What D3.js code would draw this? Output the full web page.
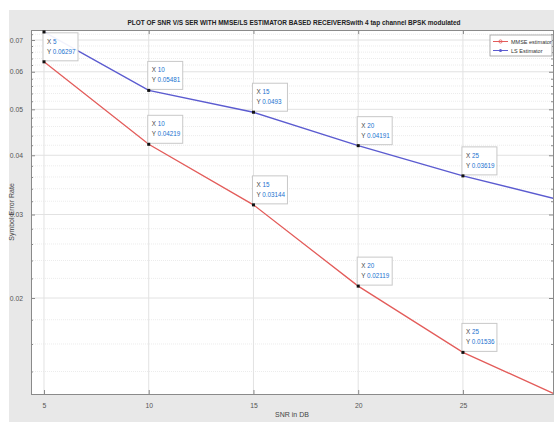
<!DOCTYPE html>
<html lang="en">
<head>
<meta charset="UTF-8">
<title>SNR vs SER</title>
<script src="https://cdnjs.cloudflare.com/ajax/libs/d3/7.8.5/d3.min.js"></script>
<style>
    body { margin: 0; background: #ffffff; }
    * { font-family: "Liberation Sans", Arial, sans-serif; }
</style>
</head>
<body>
<div id="onlydiv"></div>
<script>
    // Data
    var snr = [5, 10, 15, 20, 25, 30];
    var mmse = [0.06297, 0.04219, 0.03144, 0.02119, 0.01536, 0.0122];
    var ls = [0.0728, 0.05481, 0.0493, 0.04191, 0.03619, 0.0319];
    var xTicks = [5, 10, 15, 20, 25];
    var yTicks = [0.02, 0.03, 0.04, 0.05, 0.06, 0.07];
    var yMinor = [0.014, 0.016, 0.018, 0.022, 0.024, 0.026, 0.028, 0.032, 0.034, 0.036, 0.038,
                  0.042, 0.044, 0.046, 0.048, 0.052, 0.054, 0.056, 0.058, 0.062, 0.064, 0.066, 0.068, 0.072];
    // which points carry a data tip
    var mmseTips = [5, 10, 15, 20, 25];
    var lsTips = [10, 15, 20, 25];
    var seriesNames = ["MMSE estimator", "LS Estimator"];
    var title = "PLOT OF SNR V/S SER WITH MMSE/LS ESTIMATOR BASED RECEIVERSwith 4 tap channel BPSK modulated";

    var w = 554, h = 422;
    var axL = 31, axR = 553, axT = 30, axB = 394;
    var red = "#e35c5a", blue = "#5b5bd0";

    var svg = d3.select("#onlydiv").append("svg")
        .attr("width", w).attr("height", h);

    // figure background
    svg.append("rect").attr("x", 9).attr("y", 10).attr("width", w - 9).attr("height", h - 10)
        .attr("fill", "#e8e8e8");
    svg.append("rect").attr("x", axL).attr("y", axT)
        .attr("width", axR - axL).attr("height", axB - axT)
        .attr("fill", "#ffffff");

    var xScale = d3.scaleLinear().domain([4.38, 29.3]).range([axL, axR]);
    var yScale = d3.scaleLog().domain([0.01255, 0.07349]).range([axB, axT]);

    // grid
    var grid = svg.append("g");
    grid.selectAll(".ymin").data(yMinor).enter().append("line")
        .attr("x1", axL).attr("x2", axR)
        .attr("y1", function(d) { return yScale(d); })
        .attr("y2", function(d) { return yScale(d); })
        .attr("stroke", "#ececec").attr("stroke-width", 1).attr("stroke-dasharray", "1,1");
    grid.selectAll(".ymaj").data(yTicks).enter().append("line")
        .attr("x1", axL).attr("x2", axR)
        .attr("y1", function(d) { return yScale(d); })
        .attr("y2", function(d) { return yScale(d); })
        .attr("stroke", "#e2e2e2").attr("stroke-width", 1);
    grid.selectAll(".xmaj").data(xTicks).enter().append("line")
        .attr("y1", axT).attr("y2", axB)
        .attr("x1", function(d) { return xScale(d); })
        .attr("x2", function(d) { return xScale(d); })
        .attr("stroke", "#e2e2e2").attr("stroke-width", 1);

    // axes (ticks pointing inward, box all round)
    var axisColor = "#8a8a8a";
    var xAxis = d3.axisBottom(xScale).tickValues(xTicks).tickSize(-4).tickPadding(9);
    var yAxis = d3.axisLeft(yScale).tickValues(yTicks).tickSize(-4).tickPadding(8)
        .tickFormat(d3.format(".2f"));

    svg.append("g").attr("transform", "translate(0," + axB + ")").call(xAxis);
    svg.append("g").attr("transform", "translate(" + axL + ",0)").call(yAxis);
    svg.append("g").attr("transform", "translate(" + axR + ",0)")
        .call(d3.axisRight(yScale).tickValues(yTicks).tickSize(-4).tickFormat(""));
    svg.append("g").attr("transform", "translate(0," + axT + ")")
        .call(d3.axisTop(xScale).tickValues(xTicks).tickSize(-4).tickFormat(""));
    // minor ticks
    svg.append("g").attr("transform", "translate(" + axL + ",0)")
        .call(d3.axisLeft(yScale).tickValues(yMinor).tickSize(-2).tickFormat(""));
    svg.append("g").attr("transform", "translate(" + axR + ",0)")
        .call(d3.axisRight(yScale).tickValues(yMinor).tickSize(-2).tickFormat(""));

    svg.selectAll(".domain").attr("stroke", axisColor);
    svg.selectAll(".tick line").attr("stroke", axisColor);
    svg.selectAll(".tick text").attr("fill", "#555").attr("font-size", 6.8);

    // lines
    svg.append("clipPath").attr("id", "clip").append("rect")
        .attr("x", axL).attr("y", axT).attr("width", axR - axL).attr("height", axB - axT);
    var plot = svg.append("g").attr("clip-path", "url(#clip)");

    var line = d3.line()
        .x(function(d) { return xScale(d[0]); })
        .y(function(d) { return yScale(d[1]); });

    var mmseData = d3.zip(snr, mmse);
    var lsData = d3.zip(snr, ls);

    plot.append("path").datum(mmseData).attr("d", line)
        .attr("fill", "none").attr("stroke", red).attr("stroke-width", 1.3);
    plot.append("path").datum(lsData).attr("d", line)
        .attr("fill", "none").attr("stroke", blue).attr("stroke-width", 1.4);

    // data tips
    var fmt = d3.format(".4~g");
    function addTip(x, y) {
        var px = xScale(x), py = yScale(y);
        var g = svg.append("g").attr("transform", "translate(" + px + "," + py + ")");
        g.append("rect").attr("x", -1).attr("y", -29).attr("width", 35).attr("height", 28)
            .attr("fill", "#ffffff").attr("fill-opacity", 0.92)
            .attr("stroke", "#c8c8c8").attr("stroke-width", 1);
        var t1 = g.append("text").attr("x", 3).attr("y", -18).attr("font-size", 6.3);
        t1.append("tspan").attr("fill", "#444").text("X ");
        t1.append("tspan").attr("fill", "#1a73d0").text(x);
        var t2 = g.append("text").attr("x", 3).attr("y", -8).attr("font-size", 6.3);
        t2.append("tspan").attr("fill", "#444").text("Y ");
        t2.append("tspan").attr("fill", "#1a73d0").text(fmt(y));
    }
    snr.forEach(function(x, i) {
        if (mmseTips.indexOf(x) >= 0) addTip(x, mmse[i]);
        if (lsTips.indexOf(x) >= 0) addTip(x, ls[i]);
    });
    // black data tip markers
    var pts = mmseData.concat(lsData).filter(function(d) { return d[0] <= 25; });
    svg.selectAll(".mk").data(pts).enter().append("rect")
        .attr("x", function(d) { return xScale(d[0]) - 1.5; })
        .attr("y", function(d) { return yScale(d[1]) - 1.5; })
        .attr("width", 3).attr("height", 3).attr("fill", "#111");

    // legend
    var lg = svg.append("g").attr("transform", "translate(490,35)");
    lg.append("rect").attr("width", 62).attr("height", 21)
        .attr("fill", "#fff").attr("stroke", "#9a9a9a").attr("stroke-width", 0.8);
    [red, blue].forEach(function(c, i) {
        var yy = 6.5 + i * 9;
        lg.append("line").attr("x1", 3).attr("x2", 18).attr("y1", yy).attr("y2", yy)
            .attr("stroke", c).attr("stroke-width", 1);
        if (i === 0) {
            lg.append("circle").attr("cx", 10.5).attr("cy", yy).attr("r", 1.6)
                .attr("fill", "none").attr("stroke", c).attr("stroke-width", 0.8);
        } else {
            lg.append("circle").attr("cx", 10.5).attr("cy", yy).attr("r", 1.5).attr("fill", c);
        }
        lg.append("text").attr("x", 21).attr("y", yy + 2).attr("font-size", 5.5)
            .attr("fill", "#333").text(seriesNames[i]);
    });

    // title and labels
    svg.append("text").attr("x", 294).attr("y", 25).attr("text-anchor", "middle")
        .attr("font-size", 6.3).attr("font-weight", "bold").attr("fill", "#222")
        .attr("textLength", 333).attr("lengthAdjust", "spacingAndGlyphs")
        .text(title);
    svg.append("text").attr("x", (axL + axR) / 2).attr("y", 417).attr("text-anchor", "middle")
        .attr("font-size", 7).attr("fill", "#444").text("SNR in DB");
    svg.append("text").attr("transform", "translate(14," + ((axT + axB) / 2) + ") rotate(-90)")
        .attr("text-anchor", "middle").attr("font-size", 7).attr("fill", "#444")
        .text("Symbol Error Rate");
</script>
</body>
</html>
